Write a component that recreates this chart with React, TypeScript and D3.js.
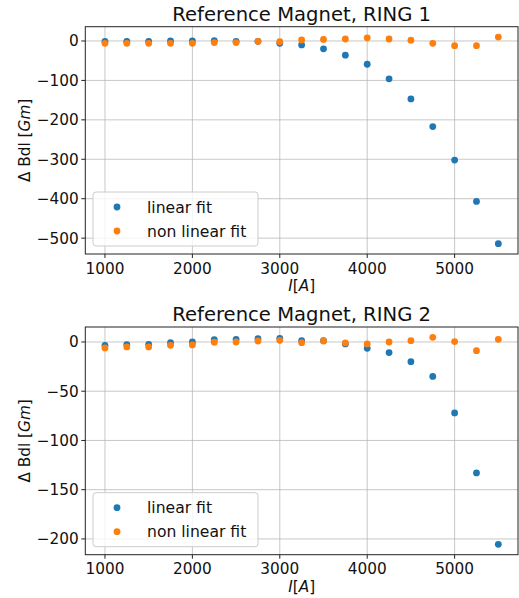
import React from "react";
import * as d3 from "d3";

const currents = [1000, 1250, 1500, 1750, 2000, 2250, 2500, 2750, 3000, 3250, 3500, 3750, 4000, 4250, 4500, 4750, 5000, 5250, 5500];

const ring1Linear = [-1, -1, -1, 0, 0, 1, -1, -1, -6, -10, -20, -36, -59, -96, -147, -217, -302, -407, -514];
const ring1NonLinear = [-6, -6, -6, -6, -6, -4, -4, -1, -2, 2.5, 4, 5, 8, 5, 2, -6, -12, -12, 10];

const ring2Linear = [-3.4, -2.7, -2.4, -0.7, 0, 2.3, 2.7, 3.3, 3.7, 1.3, 1.3, -2, -6.4, -10.8, -20, -35, -72, -133, -205.5];
const ring2NonLinear = [-6, -5, -5, -3.4, -3, -0.3, 0, 1, 1.7, -0.7, 1, -1, -2, 0, 1.3, 4.7, 0.4, -8.8, 2.7];

const xTicks = [1000, 2000, 3000, 4000, 5000];
const ring1YTicks = [0, -100, -200, -300, -400, -500];
const ring2YTicks = [0, -50, -100, -150, -200];

const seriesNames = ["linear fit", "non linear fit"];
const colors = ["#1f77b4", "#ff7f0e"];

const FONT = "'DejaVu Sans'";

type PanelProps = {
  top: number;
  bottom: number;
  title: string;
  linear: number[];
  nonLinear: number[];
  yTicks: number[];
};

function fmt(v: number) {
  return v < 0 ? "\u2212" + Math.abs(v) : String(v);
}

function Panel({ top, bottom, title, linear, nonLinear, yTicks }: PanelProps) {
  const left = 85.3;
  const right = 518;
  const xPad = (d3.max(currents)! - d3.min(currents)!) * 0.05;
  const x = d3.scaleLinear().domain([d3.min(currents)! - xPad, d3.max(currents)! + xPad]).range([left, right]);
  const all = linear.concat(nonLinear);
  const yMin = d3.min(all)!;
  const yMax = d3.max(all)!;
  const yPad = (yMax - yMin) * 0.05;
  const y = d3.scaleLinear().domain([yMin - yPad, yMax + yPad]).range([bottom, top]);
  const cy = (top + bottom) / 2;
  const cx = (left + right) / 2;
  const series = [linear, nonLinear];
  const legX = 93;
  const legY = bottom - 62;
  return (
    <g>
      <rect x={left} y={top} width={right - left} height={bottom - top} fill="white" />
      {xTicks.map((t) => (
        <line key={"gx" + t} x1={x(t)} x2={x(t)} y1={top} y2={bottom} stroke="#b0b0b0" strokeOpacity={0.7} strokeWidth={1} />
      ))}
      {yTicks.map((t) => (
        <line key={"gy" + t} x1={left} x2={right} y1={y(t)} y2={y(t)} stroke="#b0b0b0" strokeOpacity={0.7} strokeWidth={1} />
      ))}
      {series.map((s, si) =>
        s.map((v, i) => (
          <circle key={si + "-" + i} cx={x(currents[i])} cy={y(v)} r={3.4} fill={colors[si]} />
        ))
      )}
      <rect x={left} y={top} width={right - left} height={bottom - top} fill="none" stroke="#222" strokeWidth={1} />
      {xTicks.map((t) => (
        <g key={"xt" + t}>
          <line x1={x(t)} x2={x(t)} y1={bottom} y2={bottom + 4} stroke="#222" />
          <text x={x(t)} y={bottom + 19.5} textAnchor="middle" fontSize={15.3} fontFamily={FONT} fill="#111">
            {t}
          </text>
        </g>
      ))}
      {yTicks.map((t) => (
        <g key={"yt" + t}>
          <line x1={left - 4} x2={left} y1={y(t)} y2={y(t)} stroke="#222" />
          <text x={left - 6.5} y={y(t) + 5.5} textAnchor="end" fontSize={15.3} fontFamily={FONT} fill="#111">
            {fmt(t)}
          </text>
        </g>
      ))}
      <text x={cx} y={bottom + 37} textAnchor="middle" fontSize={15.3} fontFamily={FONT} fill="#111">
        <tspan fontStyle="italic">I</tspan>
        <tspan>[</tspan>
        <tspan fontStyle="italic">A</tspan>
        <tspan>]</tspan>
      </text>
      <text
        transform={`translate(${30},${cy}) rotate(-90)`}
        textAnchor="middle"
        fontSize={15.3}
        fontFamily={FONT}
        fill="#111"
      >
        <tspan>{"\u0394 Bdl ["}</tspan>
        <tspan fontStyle="italic">Gm</tspan>
        <tspan>]</tspan>
      </text>
      <text x={cx} y={top - 6} textAnchor="middle" fontSize={19.6} fontFamily={FONT} fill="#111">
        {title}
      </text>
      <rect x={legX} y={legY} width={165} height={54} rx={3} fill="white" fillOpacity={0.8} stroke="#ccc" strokeWidth={1} />
      {seriesNames.map((n, i) => (
        <g key={n}>
          <circle cx={legX + 24} cy={legY + 15 + i * 24} r={3.4} fill={colors[i]} />
          <text x={legX + 54} y={legY + 20.5 + i * 24} fontSize={15.6} fontFamily={FONT} fill="#111">
            {n}
          </text>
        </g>
      ))}
    </g>
  );
}

export default function App() {
  return (
    <svg width={519} height={598} style={{ position: "absolute", left: 0, top: 0, background: "white" }}>
      <rect width={519} height={598} fill="white" />
      <Panel top={26.7} bottom={254} title="Reference Magnet, RING 1" linear={ring1Linear} nonLinear={ring1NonLinear} yTicks={ring1YTicks} />
      <Panel top={327} bottom={554.7} title="Reference Magnet, RING 2" linear={ring2Linear} nonLinear={ring2NonLinear} yTicks={ring2YTicks} />
    </svg>
  );
}
